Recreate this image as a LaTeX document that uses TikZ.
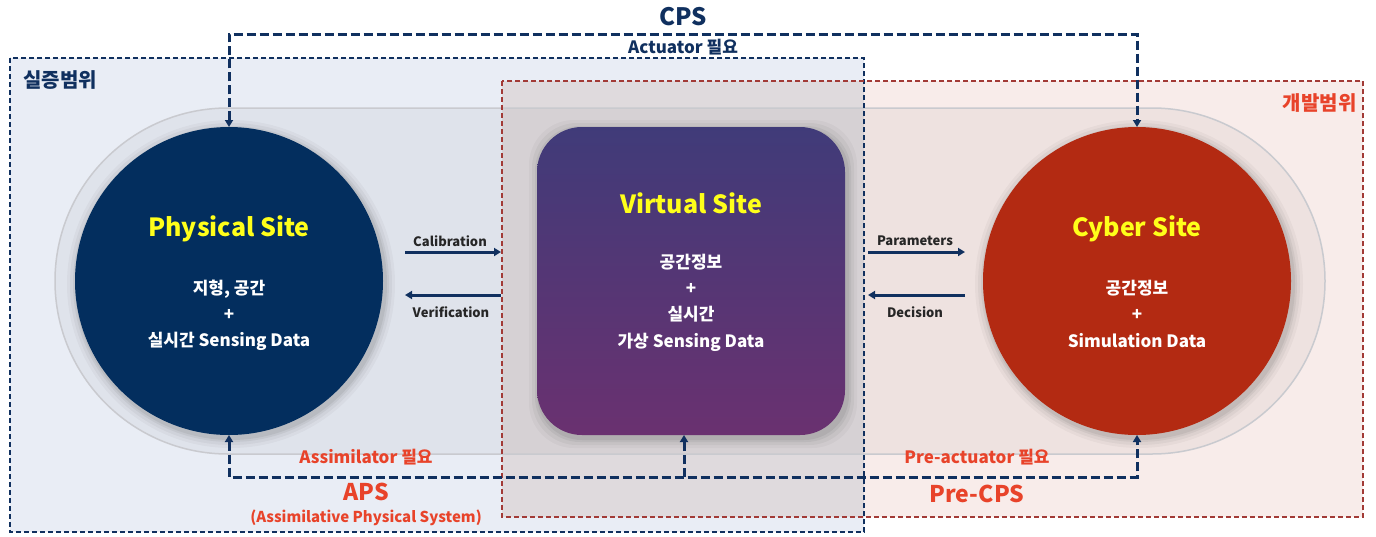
\documentclass[tikz,border=0pt]{standalone}
\usepackage{fontspec}
\setmainfont{Noto Sans CJK KR}
\usetikzlibrary{arrows.meta}
\definecolor{navy}{HTML}{10305F}
\definecolor{physfill}{HTML}{032E5E}
\definecolor{cyberfill}{HTML}{B32A12}
\definecolor{virttop}{HTML}{403B79}
\definecolor{virtbot}{HTML}{6A3170}
\definecolor{bluereg}{HTML}{E9EDF5}
\definecolor{redreg}{HTML}{F8ECEA}
\definecolor{overlap}{HTML}{DFDADD}
\definecolor{redborder}{HTML}{A23A36}
\definecolor{redtext}{HTML}{E8432A}
\definecolor{sitey}{HTML}{FFFF1A}
\definecolor{pillgray}{HTML}{C9CACF}
\begin{document}
\begin{tikzpicture}[x=1pt,y=-1pt,
  regionblue/.style={draw=navy,line width=1.6pt,dash pattern=on 5pt off 3pt},
  regionred/.style={draw=redborder,line width=1.6pt,dash pattern=on 5pt off 3pt},
  flow/.style={draw=navy,line width=3pt,dash pattern=on 9pt off 4pt,
    arrows={-Triangle[width=8pt,length=7pt]}},
  flowboth/.style={draw=navy,line width=3pt,dash pattern=on 9pt off 4pt,
    arrows={Triangle[width=8pt,length=7pt]-Triangle[width=8pt,length=7pt]}},
  harrow/.style={draw=navy,line width=3pt,-{Triangle[width=8pt,length=7pt]}},
  site/.style={circle,minimum size=308pt,inner sep=0pt,outer sep=0pt},
  title/.style={font=\fontsize{25}{29}\selectfont\bfseries,text=sitey},
  body/.style={font=\fontsize{17}{20}\selectfont\bfseries,text=white},
  small/.style={font=\fontsize{13}{16}\selectfont\bfseries,text=black!85},
  redlab/.style={font=\fontsize{17}{20}\selectfont\bfseries,text=redtext},
  redbig/.style={font=\fontsize{23}{27}\selectfont\bfseries,text=redtext},
  navylab/.style={font=\fontsize{17}{20}\selectfont\bfseries,text=navy},
  navybig/.style={font=\fontsize{24}{28}\selectfont\bfseries,text=navy}]
\useasboundingbox (0,0) rectangle (1376,536);
\fill[white] (0,0) rectangle (1376,536);
% regions
\fill[bluereg] (10,58) rectangle (864,532);
\fill[redreg] (502,81) rectangle (1363,517);
\fill[overlap] (502,81) rectangle (864,517);
% pill background
\draw[pillgray,line width=1.5pt,fill=black,fill opacity=0.04]
  (228,108) -- (1152,108) arc(-90:90:173) -- (228,454) arc(90:270:173) -- cycle;
% region borders
\draw[regionblue] (10,58) rectangle (864,532);
\draw[regionred] (502,81) rectangle (1363,517);
\node[navylab,font=\fontsize{20}{24}\selectfont\bfseries,anchor=west] (silj) at (20,80) {실증범위};
\node[font=\fontsize{20}{24}\selectfont\bfseries,text=redtext,anchor=east] (gaebal) at (1360,103) {개발범위};
% shadows
\foreach \r/\o in {164/0.03,161/0.04,158/0.05,156/0.06}{
  \fill[black,opacity=\o] (231,284) circle (\r);
  \fill[black,opacity=\o] (1139,284) circle (\r);
}
\foreach \e/\o in {10/0.03,7/0.04,4/0.05,2/0.06}{
  \fill[black,opacity=\o,rounded corners=45] (537-\e+2,127-\e+3) rectangle (845+\e+2,435+\e+3);
}
% sites
\node[site,fill=physfill] (phys) at (229,281) {};
\node[site,fill=cyberfill] (cyber) at (1137,281) {};
\shade[top color=virttop,bottom color=virtbot,rounded corners=45] (537,127) rectangle (845,435);
\node[minimum width=308pt,minimum height=308pt,inner sep=0pt,outer sep=0pt] (virt) at (691,281) {};
% site texts
\node[title] (physT) at (229,229) {Physical Site};
\node[body] (physA) at (229,289) {지형, 공간};
\node[body] (physB) at (229,315) {+};
\node[body] (physC) at (229,341) {실시간 Sensing Data};
\node[title] (virtT) at (691,203) {Virtual Site};
\node[body] (virtA) at (691,262) {공간정보};
\node[body] (virtB) at (691,289) {+};
\node[body] (virtC) at (691,314) {실시간};
\node[body] (virtD) at (691,342) {가상 Sensing Data};
\node[title] (cybT) at (1137,229) {Cyber Site};
\node[body] (cybA) at (1137,288) {공간정보};
\node[body] (cybB) at (1137,315) {+};
\node[body] (cybC) at (1137,341) {Simulation Data};
% horizontal arrows
\coordinate (calA) at (405,252); \coordinate (calB) at (501,252);
\coordinate (verA) at (501,295); \coordinate (verB) at (405,295);
\coordinate (parA) at (868,252); \coordinate (parB) at (965,252);
\coordinate (decA) at (965,295); \coordinate (decB) at (868,295);
\draw[harrow] (calA) -- (calB);
\draw[harrow] (verA) -- (verB);
\draw[harrow] (parA) -- (parB);
\draw[harrow] (decA) -- (decB);
\node[small] (calL) at (450,241) {Calibration};
\node[small] (verL) at (451,312) {Verification};
\node[small] (parL) at (915,241) {Parameters};
\node[small] (decL) at (915,312) {Decision};
% CPS loop
\coordinate (cpstop) at (683,34);
\draw[flowboth] (phys.north) |- (cpstop) -| (cyber.north);
\node[navybig] (cps) at (683,17) {CPS};
\node[navylab] (act) at (683,47) {Actuator 필요};
% bottom loops
\coordinate (botline) at (684,477);
\coordinate (virtin) at (684,435);
\draw[flowboth] (phys.south) |- (botline) -| (cyber.south);
\draw[flow] (botline) -- (virtin);
\node[redlab] (assim) at (366,457) {Assimilator 필요};
\node[redbig] (aps) at (366,492) {APS};
\node[redlab,font=\fontsize{15}{18}\selectfont\bfseries] (apsfull) at (366,518) {(Assimilative Physical System)};
\node[redlab] (preact) at (977,457) {Pre-actuator 필요};
\node[redbig] (precps) at (977,494) {Pre-CPS};
\end{tikzpicture}
\end{document}
